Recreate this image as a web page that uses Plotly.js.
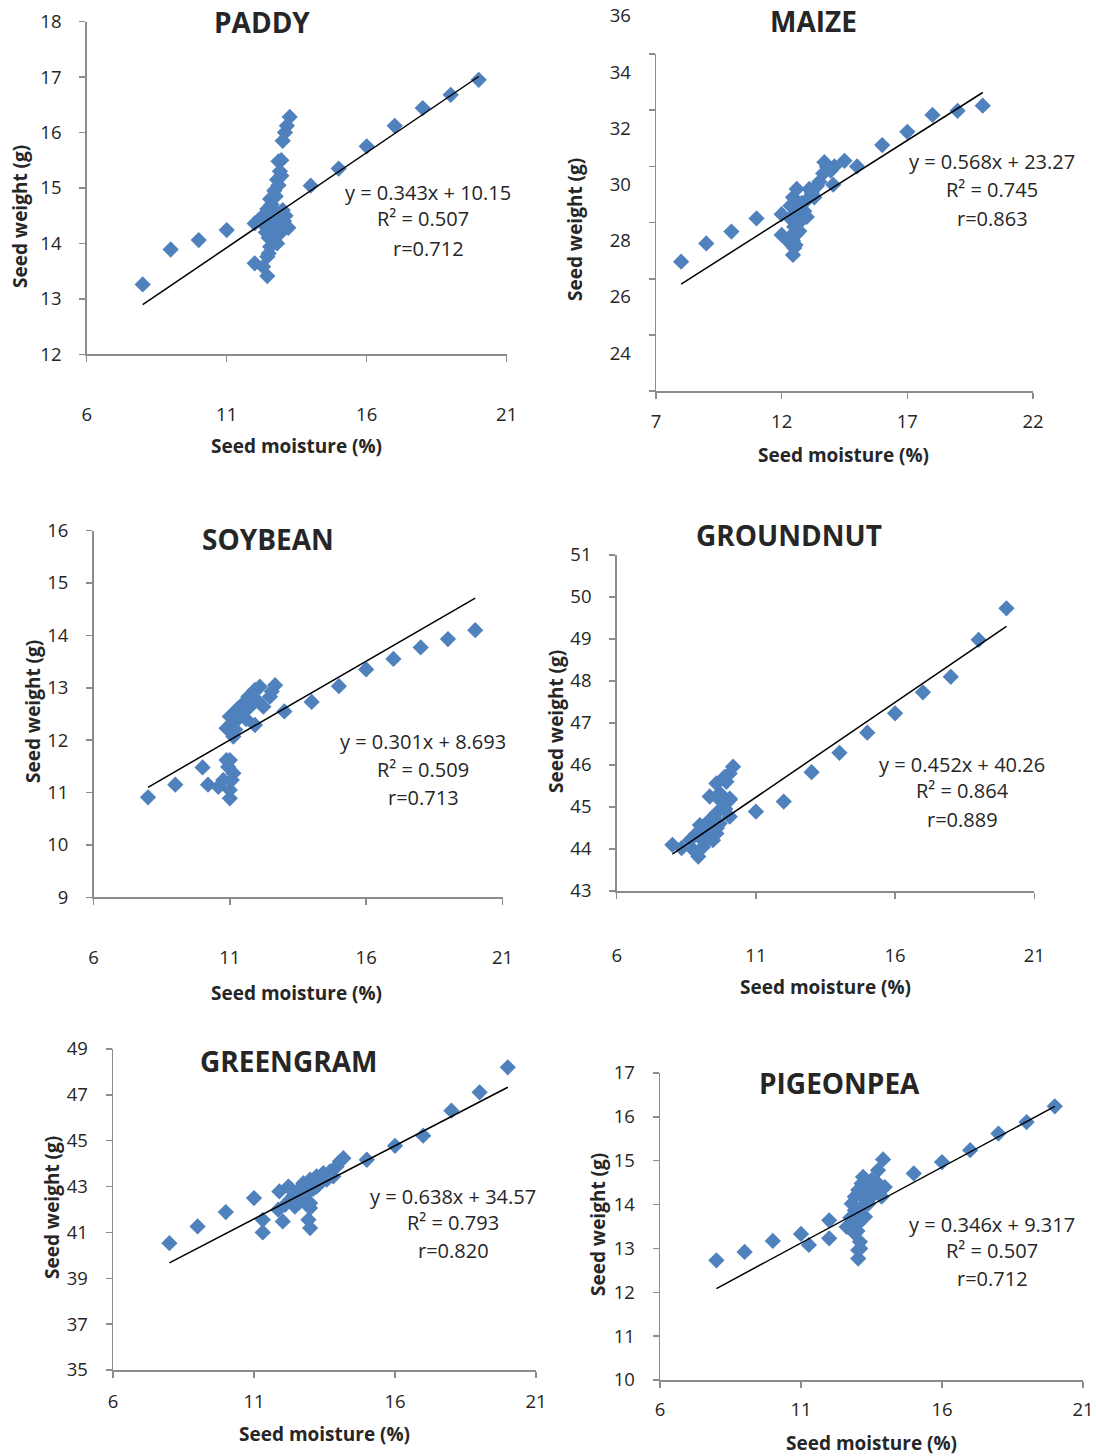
<!DOCTYPE html>
<html>
<head>
<meta charset="utf-8">
<script src="https://cdn.plot.ly/plotly-3.0.1.min.js"></script>
<style>html,body{margin:0;padding:0;background:#fff;}#chart{width:1096px;height:1456px;}</style>
</head>
<body>
<div id="chart"></div>
<script>
// ---------------- DATA ----------------
const cropNames = ['PADDY', 'MAIZE', 'SOYBEAN', 'GROUNDNUT', 'GREENGRAM', 'PIGEONPEA'];

const paddyX = [8, 9, 10, 11, 12, 12, 12.3, 12.45, 12.45, 12.5, 12.55, 12.6, 12.7, 12.9, 13.2, 13.05, 12.4, 12.3, 12.5, 12.45, 12.6, 12.55, 12.75, 12.7, 12.85, 12.8, 12.95, 12.9, 12.95, 12.85, 13.0, 13.08, 13.15, 13.25, 12.8, 13.0, 12.6, 12.2, 13.0, 12.8, 12.2, 12.4, 12.65, 12.9, 13.1, 12.7, 12.5, 14, 15, 16, 17, 18, 19, 20];
const paddyY = [13.26, 13.89, 14.06, 14.24, 14.36, 13.64, 13.58, 13.41, 13.76, 13.82, 13.94, 14.06, 14.12, 14.18, 14.28, 14.40, 14.30, 14.48, 14.55, 14.62, 14.70, 14.80, 14.85, 14.95, 15.05, 15.15, 15.22, 15.30, 15.50, 15.48, 15.85, 16.00, 16.12, 16.28, 14.50, 14.60, 14.25, 14.40, 14.35, 14.00, 14.45, 14.20, 14.35, 14.45, 14.50, 14.60, 14.10, 15.04, 15.35, 15.75, 16.12, 16.44, 16.68, 16.95];

const maizeX = [8, 9, 10, 11, 12, 12, 12.45, 12.5, 12.45, 12.6, 12.5, 12.4, 12.55, 12.35, 12.45, 12.6, 12.75, 12.9, 13.0, 13.2, 13.4, 13.5, 13.65, 13.8, 13.7, 13.95, 14.05, 14.1, 14.5, 15.0, 12.7, 12.8, 13.1, 12.3, 12.55, 12.7, 13.0, 12.4, 13.3, 16, 17, 18, 19, 20];
const maizeY = [28.61, 29.26, 29.68, 30.15, 30.30, 29.56, 28.85, 29.10, 29.35, 29.60, 29.85, 30.10, 30.35, 30.60, 30.90, 31.20, 30.50, 30.40, 30.80, 31.05, 31.30, 31.45, 31.75, 32.00, 32.15, 31.85, 31.35, 32.00, 32.20, 32.00, 30.00, 30.70, 31.20, 29.30, 29.20, 29.70, 30.20, 29.55, 30.90, 32.76, 33.23, 33.83, 33.98, 34.16];

const soyX = [8, 9, 10, 10.2, 11.0, 11.0, 11.07, 11.13, 10.94, 10.88, 10.76, 10.58, 11.0, 11.13, 10.88, 11.0, 11.25, 11.49, 11.68, 11.92, 12.1, 11.98, 11.74, 11.37, 11.13, 12.23, 12.47, 12.66, 12.54, 11.92, 11.5, 11.2, 11.6, 11.3, 13, 14, 15, 16, 17, 18, 19, 20];
const soyY = [10.91, 11.15, 11.48, 11.15, 10.89, 11.05, 11.24, 11.37, 11.49, 11.62, 11.24, 11.11, 11.62, 12.07, 12.23, 12.45, 12.58, 12.70, 12.83, 12.96, 13.02, 12.77, 12.64, 12.45, 12.32, 12.64, 12.83, 13.05, 12.93, 12.29, 12.55, 12.20, 12.40, 12.60, 12.55, 12.73, 13.03, 13.35, 13.55, 13.77, 13.93, 14.10];

const gnutX = [8, 8.33, 8.93, 8.75, 9.1, 8.63, 8.87, 9.23, 9.46, 8.99, 9.34, 9.7, 9.58, 9.82, 9.7, 10.06, 9.58, 9.94, 10.06, 10.18, 9.88, 9.58, 9.7, 9.34, 10.06, 10.06, 9.34, 9.1, 9.2, 9.6, 9.9, 9.5, 11, 12, 13, 14, 15, 16, 17, 18, 19, 20];
const gnutY = [44.10, 44.02, 43.82, 43.98, 44.05, 44.21, 44.37, 44.45, 44.21, 44.57, 44.69, 44.61, 44.85, 45.00, 45.17, 45.17, 45.56, 45.60, 45.80, 45.96, 45.72, 44.37, 45.33, 45.25, 45.20, 44.77, 44.30, 44.20, 44.20, 44.50, 44.95, 44.70, 44.89, 45.13, 45.83, 46.29, 46.77, 47.23, 47.73, 48.10, 48.98, 49.73];

const ggramX = [8, 9, 10, 11, 11.31, 11.31, 12.02, 11.86, 11.9, 12.22, 12.51, 12.75, 12.99, 13.22, 13.46, 13.7, 13.93, 14.05, 14.17, 12.99, 12.93, 12.99, 12.99, 12.75, 12.45, 12.28, 12.75, 13.22, 13.58, 13.81, 12.1, 12.6, 12.4, 12.6, 12.8, 13.1, 12.3, 13.3, 12.7, 15, 16, 17, 18, 19, 20];
const ggramY = [40.53, 41.26, 41.89, 42.50, 41.00, 41.55, 41.48, 41.99, 42.79, 43.00, 42.57, 43.15, 43.30, 43.44, 43.59, 43.66, 43.88, 44.10, 44.24, 41.19, 41.55, 42.06, 42.28, 42.42, 42.13, 42.42, 42.86, 43.00, 43.30, 43.44, 42.20, 42.80, 42.60, 42.30, 42.60, 42.90, 42.90, 43.10, 43.00, 44.17, 44.78, 45.22, 46.31, 47.11, 48.20];

const ppeaX = [8, 9, 10, 11, 11.28, 12, 12.0, 13.03, 13.03, 13.09, 12.91, 12.62, 13.03, 13.27, 12.91, 12.8, 12.91, 13.03, 13.15, 13.2, 13.5, 13.73, 13.91, 13.97, 13.86, 13.5, 13.39, 13.1, 12.75, 13.3, 13.3, 13.6, 13.4, 13.1, 13.0, 12.9, 13.7, 15, 16, 17, 18, 19, 20];
const ppeaY = [12.73, 12.92, 13.17, 13.33, 13.08, 13.64, 13.23, 12.77, 12.96, 13.15, 13.34, 13.49, 13.57, 13.72, 13.87, 14.02, 14.18, 14.33, 14.48, 14.63, 14.56, 14.78, 15.03, 14.40, 14.18, 14.18, 14.02, 13.00, 13.70, 14.30, 14.10, 14.30, 14.45, 13.90, 13.40, 13.70, 14.50, 14.71, 14.97, 15.24, 15.62, 15.88, 16.24];

// linear trend (slope, intercept) and fit span
const trendSlope = [0.343, 0.568, 0.301, 0.452, 0.638, 0.346];
const trendIntercept = [10.15, 23.27, 8.693, 40.26, 34.57, 9.317];
const trendSpan = [8, 20];

// equation labels
const eqLabels = ['y = 0.343x + 10.15', 'y = 0.568x + 23.27', 'y = 0.301x + 8.693', 'y = 0.452x + 40.26', 'y = 0.638x + 34.57', 'y = 0.346x + 9.317'];
const r2Labels = ['R² = 0.507', 'R² = 0.745', 'R² = 0.509', 'R² = 0.864', 'R² = 0.793', 'R² = 0.507'];
const rLabels = ['r=0.712', 'r=0.863', 'r=0.713', 'r=0.889', 'r=0.820', 'r=0.712'];

// axis ranges and tick steps
const xRanges = [[6, 21], [7, 22], [6, 21], [6, 21], [6, 21], [6, 21]];
const yRanges = [[12, 18], [24, 36], [9, 16], [43, 51], [35, 49], [10, 17]];
const yTickStep = [1, 2, 1, 1, 2, 1];
const xTitle = 'Seed moisture (%)';
const yTitle = 'Seed weight (g)';

const seriesX = [paddyX, maizeX, soyX, gnutX, ggramX, ppeaX];
const seriesY = [paddyY, maizeY, soyY, gnutY, ggramY, ppeaY];

// ---------------- LAYOUT (pixels in the 1096x1456 page) ----------------
const W = 1096, H = 1456;
const boxes = [
  {l: 86.7, r: 506.7, t: 21.6, b: 354.3, xso: 37, yshift: 0,
   title: [262, 22], xt: [296, 446], yt: [20, 217], eq: [428, 193], r2: [423, 218], rr: [428, 248]},
  {l: 656, r: 1033, t: 54, b: 391.2, xso: 7, yshift: -38,
   title: [813, 21], xt: [843, 455], yt: [575, 230], eq: [992, 161], r2: [992, 190], rr: [992, 218]},
  {l: 93.5, r: 502.5, t: 530.6, b: 897.4, xso: 37, yshift: 0,
   title: [268, 539], xt: [296, 993], yt: [33, 712], eq: [423, 741], r2: [423, 769], rr: [423, 797]},
  {l: 616.7, r: 1034.3, t: 555, b: 891, xso: 41, yshift: 0,
   title: [789, 535], xt: [825, 987], yt: [556, 722], eq: [962, 764], r2: [962, 791], rr: [962, 819]},
  {l: 113, r: 536, t: 1049, b: 1370, xso: 8, yshift: 0,
   title: [288, 1061], xt: [324, 1434], yt: [52, 1208], eq: [453, 1196], r2: [453, 1222], rr: [453, 1250]},
  {l: 660, r: 1083, t: 1073, b: 1380, xso: 6, yshift: 0,
   title: [839, 1083], xt: [871, 1443], yt: [598, 1225], eq: [992, 1224], r2: [992, 1250], rr: [992, 1278]}
];

const FONT = 'Open Sans, Liberation Sans, sans-serif';
const TXT = '#262626';
const AXC = '#8c8c8c';
const fx = px => px / W;
const fy = py => 1 - py / H;

const traces = [];
const layout = {
  width: W, height: H,
  margin: {l: 0, r: 0, t: 0, b: 0},
  paper_bgcolor: '#ffffff', plot_bgcolor: 'rgba(0,0,0,0)',
  showlegend: false,
  font: {family: FONT, color: TXT},
  annotations: []
};

function ann(text, pos, size, bold, angle) {
  layout.annotations.push({
    xref: 'paper', yref: 'paper', x: fx(pos[0]), y: fy(pos[1]),
    xanchor: 'center', yanchor: 'middle', showarrow: false,
    text: bold ? '<b>' + text + '</b>' : text,
    textangle: angle || 0,
    font: {family: FONT, size: size, color: TXT}
  });
}

boxes.forEach((b, i) => {
  const n = i === 0 ? '' : String(i + 1);
  const xa = 'x' + n, ya = 'y' + n;
  traces.push({
    type: 'scatter', mode: 'markers', x: seriesX[i], y: seriesY[i],
    xaxis: xa, yaxis: ya,
    marker: {symbol: 'diamond', size: 12.5, color: '#4F81BD', line: {width: 0}},
    hoverinfo: 'x+y'
  });
  traces.push({
    type: 'scatter', mode: 'lines',
    x: trendSpan.slice(),
    y: trendSpan.map(v => trendSlope[i] * v + trendIntercept[i]),
    xaxis: xa, yaxis: ya,
    line: {color: '#000000', width: 1.5}, hoverinfo: 'skip'
  });
  const common = {
    showgrid: false, zeroline: false, showline: true, linecolor: AXC, linewidth: 1.5,
    ticks: 'outside', ticklen: 6, tickcolor: AXC, tickwidth: 1.5,
    tickfont: {family: FONT, size: 18.5, color: TXT}, fixedrange: true
  };
  layout['xaxis' + n] = Object.assign({}, common, {
    domain: [fx(b.l), fx(b.r)], range: xRanges[i], anchor: ya,
    tick0: xRanges[i][0], dtick: 5, ticklabelstandoff: b.xso
  });
  layout['yaxis' + n] = Object.assign({}, common, {
    domain: [fy(b.b), fy(b.t)], range: yRanges[i], anchor: xa,
    tick0: yRanges[i][0], dtick: yTickStep[i], ticklabelstandoff: 14,
    ticklabelshift: b.yshift
  });
  ann(cropNames[i], b.title, 28, true);
  ann(xTitle, b.xt, 19, true);
  ann(yTitle, b.yt, 19, true, -90);
  ann(eqLabels[i], b.eq, 20, false);
  ann(r2Labels[i], b.r2, 20, false);
  ann(rLabels[i], b.rr, 20, false);
});

Plotly.newPlot('chart', traces, layout, {staticPlot: true, displayModeBar: false});
</script>
</body>
</html>
